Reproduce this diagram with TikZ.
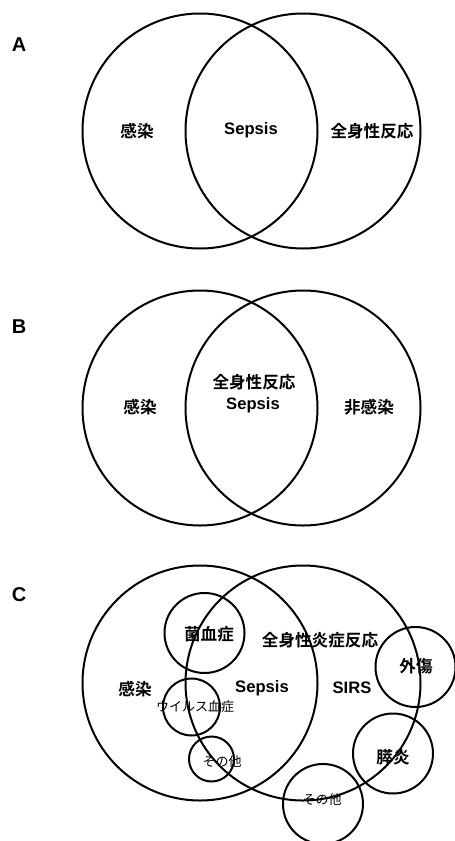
\documentclass[tikz,border=0pt]{standalone}
\usepackage{fontspec}
\setmainfont{Liberation Sans}
\newfontfamily\cjk{Noto Sans CJK JP}[BoldFont={Noto Sans CJK JP Bold}]
\begin{document}
\begin{tikzpicture}[x=1pt,y=-1pt,
  ring/.style={circle,draw,line width=2pt,inner sep=0pt,minimum size=#1},
  lab/.style={font=\fontsize{16.6}{18}\selectfont\bfseries\cjk,inner sep=0pt},
  lat/.style={font=\fontsize{16.6}{18}\selectfont\bfseries,inner sep=0pt},
  small/.style={font=\fontsize{13}{14}\selectfont\cjk,inner sep=0pt},
  panel/.style={font=\fontsize{20}{22}\selectfont\bfseries,inner sep=0pt}]
\useasboundingbox (0,0) rectangle (455,841);
% Panel A
\node[panel] (pA) at (19,45) {A};
\node[ring=235pt] (aL) at (200,131) {};
\node[ring=235pt] (aR) at (303,131) {};
\node[lab] (aInf) at (137,131) {感染};
\node[lat] (aSep) at (251,130) {Sepsis};
\node[lab] (aSys) at (372,131) {全身性反応};
% Panel B
\node[panel] (pB) at (19,327) {B};
\node[ring=235pt] (bL) at (200,408) {};
\node[ring=235pt] (bR) at (303,408) {};
\node[lab] (bInf) at (140,407) {感染};
\node[lab] (bSys) at (254,382) {全身性反応};
\node[lat] (bSep) at (253,405) {Sepsis};
\node[lab] (bNon) at (369,407) {非感染};
% Panel C
\node[panel] (pC) at (19,595) {C};
\node[ring=235pt] (cL) at (200,683) {};
\node[ring=235pt] (cR) at (303,683) {};
\node[ring=80pt] (cBac) at (204.5,633) {};
\node[ring=57pt] (cVir) at (191.5,707) {};
\node[ring=45pt] (cOth1) at (211.5,759) {};
\node[ring=80pt] (cTra) at (415.5,667) {};
\node[ring=80pt] (cPan) at (393,753.5) {};
\node[ring=80pt] (cOth2) at (323,804) {};
\node[lab] (tBac) at (209,634) {菌血症};
\node[lab] (tSirsJ) at (320,640) {全身性炎症反応};
\node[lab] (tTra) at (416,666) {外傷};
\node[lab] (tInf) at (135,689) {感染};
\node[lat] (tSep) at (262,688) {Sepsis};
\node[lat] (tSirs) at (352,688) {SIRS};
\node[small] (tVir) at (195,707) {ウイルス血症};
\node[small] (tOth1) at (222,762) {その他};
\node[lab] (tPan) at (393,757) {膵炎};
\node[small] (tOth2) at (322,800) {その他};
\end{tikzpicture}
\end{document}
